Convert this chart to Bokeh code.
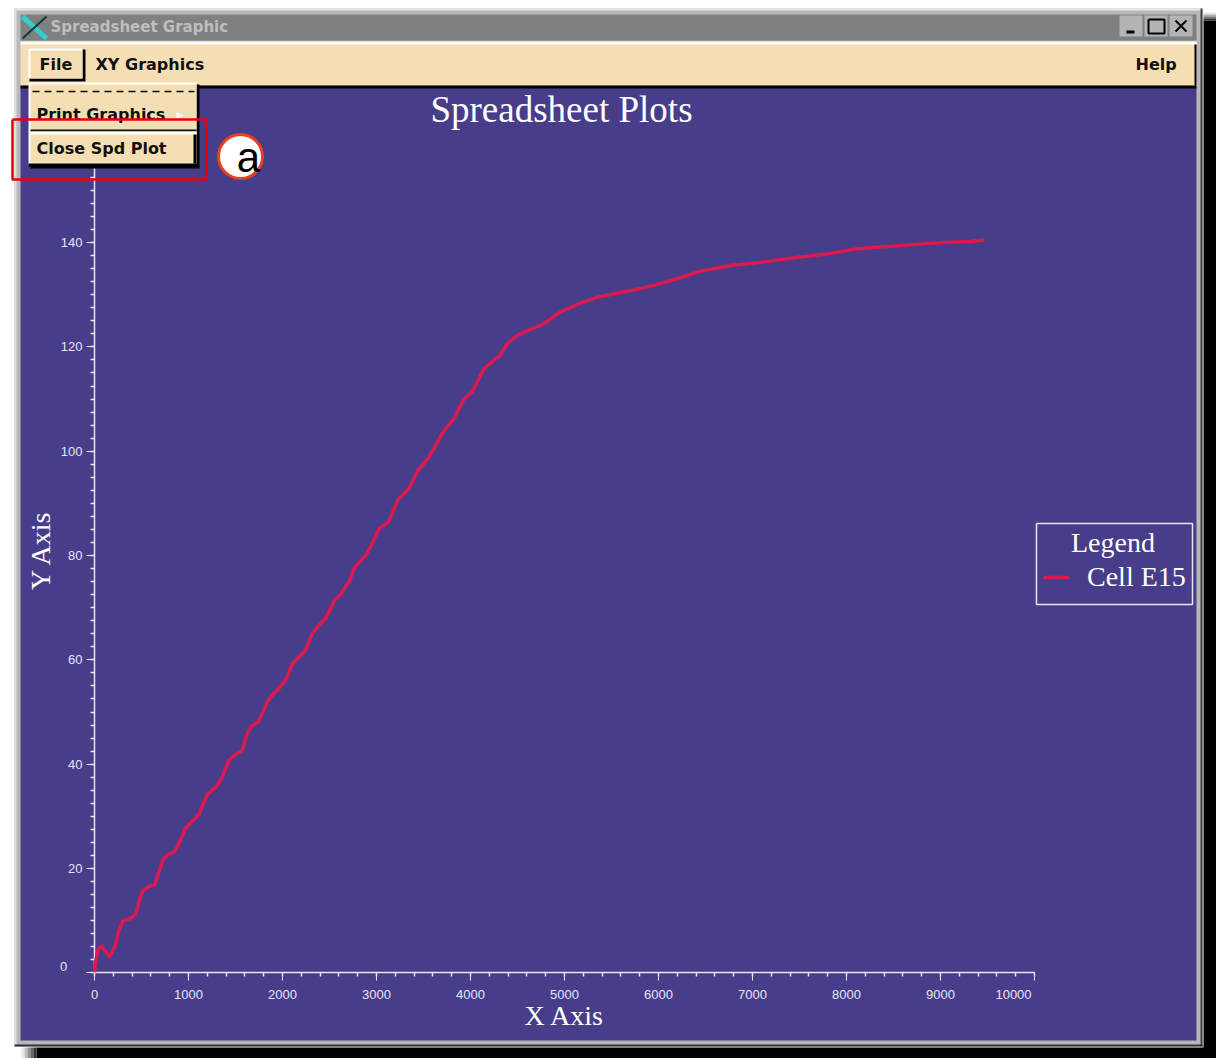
from bokeh.plotting import figure
from bokeh.embed import file_html
from bokeh.resources import INLINE
from bokeh.core.properties import value
from bokeh.models import Legend, LegendItem, FixedTicker, Range1d

# ---- data ----
cell_x = [0, 11, 39, 74, 117, 160, 223, 252, 305, 383, 436, 472, 514, 578, 641, 677, 737, 790, 854, 915, 961,
          1032, 1117, 1163, 1209, 1287, 1351, 1429, 1500, 1571, 1624, 1667, 1748, 1837, 1872, 1979, 2043, 2103,
          2245, 2316, 2386, 2457, 2553, 2617, 2716, 2759, 2883, 2944, 3025, 3131, 3227, 3344, 3440, 3557, 3628,
          3699, 3822, 3929, 4018, 4142, 4248, 4312, 4390, 4497, 4603, 4780, 4922, 5029, 5170, 5348, 5525, 5738,
          5950, 6163, 6447, 6766, 7085, 7439, 7794, 8114, 8326, 8681, 9035, 9319, 9468]
cell_y = [0.1, 2.0, 4.6, 5.1, 4.1, 3.1, 5.2, 7.8, 10.0, 10.4, 11.2, 13.5, 15.8, 16.5, 16.9, 19.0, 21.9, 22.7, 23.3, 25.4, 27.6,
          28.9, 30.5, 32.7, 34.4, 35.5, 37.2, 40.7, 41.9, 42.6, 45.8, 47.2, 48.2, 51.9, 52.8, 54.9, 56.4, 59.2,
          61.8, 65.0, 66.6, 67.9, 71.4, 72.5, 75.2, 77.5, 80.0, 81.9, 85.1, 86.5, 90.7, 92.8, 96.3, 98.8, 101.1,
          103.4, 106.2, 110.0, 111.3, 115.8, 117.4, 118.3, 120.6, 122.2, 123.1, 124.4, 126.3, 127.3, 128.4, 129.5, 130.2, 130.9,
          131.8, 132.9, 134.5, 135.6, 136.2, 137.1, 137.8, 138.8, 139.1, 139.6, 140.0, 140.2, 140.5]
x_ticks = [0, 1000, 2000, 3000, 4000, 5000, 6000, 7000, 8000, 9000, 10000]
y_ticks = [0, 20, 40, 60, 80, 100, 120, 140, 160]
series_name = "Cell E15"
title_text = "Spreadsheet Plots"

# ---- page pixel <-> data scale ----
def X(px):
    return (px - 94) / 0.094
def Y(py):
    return (972.3 - py) / 5.216

NAVY = "#483D8B"
WHEAT = "#F5DEB3"
FG = "#E6E6EE"
LINE = "#DC1A4E"

p = figure(width=1216, height=1058, output_backend="svg", toolbar_location=None,
           x_range=Range1d(X(0), X(1216)), y_range=Range1d(Y(1058), Y(0)),
           min_border=0, min_border_left=0, min_border_right=0, min_border_top=0, min_border_bottom=0,
           background_fill_color="white", border_fill_color="white", outline_line_color=None)
p.grid.visible = False

def box(l, t, r, b, color, level="underlay", alpha=1.0):
    p.quad(left=X(l), right=X(r), top=Y(t), bottom=Y(b), fill_color=color, fill_alpha=alpha,
           line_color=None, level=level)

def seg(xs, ys, color, width=1, level="overlay", dash="solid"):
    p.line([X(v) for v in xs], [Y(v) for v in ys], line_color=color, line_width=width,
           level=level, line_dash=dash)

def txt(px, py, s, font, size, color, style="normal", align="left", level="overlay"):
    p.text(x=[X(px)], y=[Y(py)], text=[s], text_font=value(font), text_font_size=f"{size}px",
           text_color=color, text_font_style=style, text_align=align, text_baseline="middle", level=level)

# drop shadow
box(1203, 20, 1216, 1058, "#000000")
for i, c in enumerate(["#e8e8e8", "#b0b0b0", "#707070", "#303030"]):
    box(1203, 12 + 2 * i, 1216, 14 + 2 * i, c)
box(36, 1047, 1216, 1058, "#000000")
for i, c in enumerate(["#e8e8e8", "#c0c0c0", "#909090", "#606060", "#303030"]):
    box(21 + 3 * i, 1047, 24 + 3 * i, 1058, c)
# window frame
box(14, 8, 1202, 1046, "#B8B8B8")
box(14, 8, 1202, 10, "#E8E8E8")
box(14, 8, 16, 1046, "#E0E0E0")
box(1200, 8, 1202, 1046, "#404040")
box(14, 1044, 1202, 1046, "#303030")
box(20, 14, 1196, 40, "#808080")
box(20, 87, 1196, 1040, NAVY)
box(20, 42, 1196, 85, WHEAT)
box(20, 41, 1196, 44, "#FFFFFF")
box(1194, 44, 1196, 85, "#000000")
box(20, 85, 1196, 88, "#000000")

# ---- chart ----
p.xaxis.fixed_location = 0
p.yaxis.fixed_location = 0
p.xaxis.bounds = (0, 10000)
p.yaxis.bounds = (0, 162)
p.xaxis.ticker = FixedTicker(ticks=x_ticks, minor_ticks=[v for v in range(0, 10001, 200)])
p.yaxis.ticker = FixedTicker(ticks=y_ticks, minor_ticks=[v * 2.5 for v in range(0, 65)])
for ax in (p.xaxis[0], p.yaxis[0]):
    ax.axis_line_color = FG
    ax.axis_line_width = 1.5
    ax.major_tick_line_color = FG
    ax.minor_tick_line_color = FG
    ax.major_tick_line_width = 1
    ax.minor_tick_line_width = 1.5
    ax.major_tick_in = 0
    ax.minor_tick_in = 0
    ax.major_tick_out = 8
    ax.minor_tick_out = 4
    ax.major_label_text_color = FG
    ax.major_label_text_font = "Liberation Sans"
    ax.major_label_text_font_size = "13px"
    ax.axis_label_text_color = "#FFFFFF"
    ax.axis_label_text_font = "Liberation Serif"
    ax.axis_label_text_font_style = "normal"
    ax.axis_label_text_font_size = "28px"
p.xaxis.axis_label = "X Axis"
p.yaxis.axis_label = "Y Axis"
p.xaxis.major_label_standoff = 9
p.yaxis.major_label_standoff = 4
p.xaxis.axis_label_standoff = -2
p.yaxis.axis_label_standoff = 2
p.xaxis.major_label_overrides = {10000: ""}
p.yaxis.major_label_overrides = {0: "", 160: ""}

txt(1013, 994, "10000", "Liberation Sans", 13, FG, align="center", level="annotation")
txt(63, 966, "0", "Liberation Sans", 13, FG, align="center", level="annotation")
txt(561, 109, title_text, "Liberation Serif", 37, "#FFFFFF", align="center", level="annotation")

curve = p.line(cell_x, cell_y, line_color=LINE, line_width=3.5, level="annotation", line_join="round")

seg([1036, 1192, 1192, 1036, 1036], [523, 523, 604, 604, 523], FG, 1.5, level="annotation")
legend = Legend(items=[LegendItem(label=series_name, renderers=[curve])],
                title="\u00A0\u00A0\u00A0\u00A0Legend",
                location=(1043, 1058 - 593), orientation="vertical",
                background_fill_alpha=0, border_line_color=None,
                label_text_color="#FFFFFF", label_text_font="Liberation Serif", label_text_font_size="28px",
                title_text_color="#FFFFFF", title_text_font="Liberation Serif", title_text_font_size="28px",
                title_text_font_style="normal",
                glyph_width=26, glyph_height=24, label_standoff=18, padding=6, margin=0, spacing=0,
                title_standoff=2)
p.add_layout(legend, "center")

# ---- window chrome drawn over the chart ----
seg([22, 46], [16, 38], "#30D0D0", 5)
seg([22, 46], [38, 16], "#103838", 2)
txt(50, 26, "Spreadsheet Graphic", "DejaVu Sans", 15, "#BEBEBE", style="bold")
for l, r in ((1119, 1142), (1144, 1167), (1169, 1192)):
    box(l, 15, r, 36, "#B4B4B4", level="overlay")
box(1126, 30, 1134, 33, "#000000", level="overlay")
seg([1148, 1164, 1164, 1148, 1148], [19, 19, 33, 33, 19], "#000000", 2)
seg([1175, 1186], [20, 31], "#000000", 2)
seg([1175, 1186], [31, 20], "#000000", 2)

# File button
box(29, 49, 85, 81, "#000000", level="overlay")
box(28, 48, 82, 78, "#FFFFFF", level="overlay")
box(30, 50, 82, 78, WHEAT, level="overlay")
txt(39, 64, "File", "DejaVu Sans", 16, "#101010", style="bold")
txt(95, 64, "XY Graphics", "DejaVu Sans", 16, "#101010", style="bold")
txt(1135, 64, "Help", "DejaVu Sans", 16, "#101010", style="bold")

# dropdown menu
box(30, 84, 199, 168, "#000000", level="overlay")
box(28, 82, 196, 165, "#FFFFFF", level="overlay")
box(30, 84, 196, 163, WHEAT, level="overlay")
seg([32, 194], [91, 91], "#101010", 1.5, dash="7 5")
txt(36, 114, "Print Graphics", "DejaVu Sans", 16, "#101010", style="bold")
txt(176, 113, "\u25B8", "DejaVu Sans", 14, "#FFFFFF")
box(30, 129, 196, 131, "#101010", level="overlay")
box(30, 131, 196, 134, "#FFFFFF", level="overlay")
box(193, 134, 196, 163, "#000000", level="overlay")
box(28, 163, 198, 166, "#000000", level="overlay")
txt(36, 148, "Close Spd Plot", "DejaVu Sans", 16, "#101010", style="bold")

# annotation marker
seg([12, 206, 206, 12, 12], [119, 119, 179, 179, 119], "#E8000C", 2.5)
p.scatter([X(240)], [Y(156)], size=44, marker="circle", fill_color="#FFFFFF", line_color="#E8401C",
          line_width=3, level="overlay")
txt(248, 157, "a", "Liberation Sans", 42, "#000000", align="center")

open("out.html", "w").write(file_html(p, INLINE))
